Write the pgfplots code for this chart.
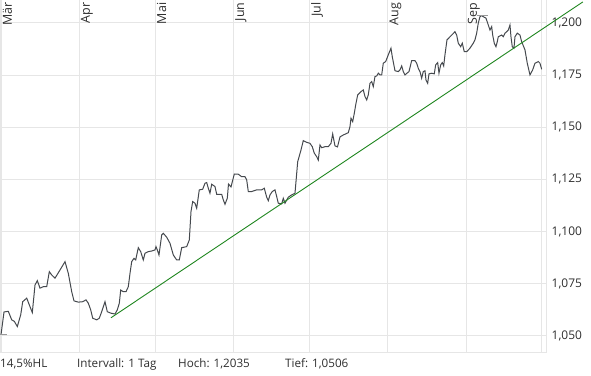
\documentclass[border=0pt]{standalone}
\usepackage{fontspec}
\setmainfont{Open Sans}
\usepackage{pgfplots}
\pgfplotsset{compat=1.18}
\definecolor{gridc}{HTML}{E6E6E6}
\definecolor{linec}{HTML}{45494E}
\definecolor{trendc}{HTML}{1F861F}
\definecolor{txtc}{HTML}{2E2E2E}
\definecolor{markc}{HTML}{999999}
\begin{document}
\begin{tikzpicture}
\useasboundingbox (0bp,-24bp) rectangle (591bp,352bp);
\begin{axis}[
  width=546bp, height=352bp, scale only axis,
  xmin=-0.4, xmax=215.6, ymin=1.0423, ymax=1.2110,
  clip=false,
  xtick={0,31,61,92,122,153,184,214},
  xticklabels={Mär,Apr,Mai,Jun,Jul,Aug,Sep,{}},
  xticklabel pos=upper,
  xticklabel style={font=\fontsize{12.5}{14}\selectfont, text=txtc, xshift=1.5bp, yshift=-2.5bp, rotate=90, anchor=north east, inner sep=0pt},
  ytick={1.05,1.075,1.1,1.125,1.15,1.175,1.2},
  yticklabels={{1,050},{1,075},{1,100},{1,125},{1,150},{1,175},{1,200}},
  yticklabel pos=right,
  yticklabel style={font=\fontsize{12}{14}\selectfont, text=txtc, anchor=west, inner sep=0pt, xshift=5.5bp},
  major tick length=0pt,
  tick style={draw=none},
  grid=major,
  major grid style={draw=gridc, line width=1bp},
  axis line style={draw=gridc, line width=1bp},
]
\addplot[linec, line width=1bp] coordinates {
(0,1.0506) (1.19,1.0615) (2.89,1.0618) (4.23,1.0577) (5.26,1.0570) (6.45,1.0545)
(7.79,1.0601) (8.58,1.0664) (10.17,1.0681) (11.19,1.0649) (12.38,1.0612) (13.45,1.0744)
(14.36,1.0765) (15.43,1.0729) (16.73,1.0736) (18.08,1.0736) (19.11,1.0808) (20.06,1.0792)
(21.36,1.0777) (23.34,1.0816) (25.32,1.0856) (26.62,1.0800) (27.97,1.0712) (28.88,1.0668)
(30.58,1.0662) (32.32,1.0664) (33.62,1.0673) (34.53,1.0657) (35.48,1.0625) (36.27,1.0585)
(37.86,1.0577) (38.88,1.0585) (39.83,1.0616) (41.14,1.0664) (42.05,1.0616) (43.51,1.0609)
(45.10,1.0605) (46.00,1.0625) (46.80,1.0657) (47.35,1.0720) (48.38,1.0712) (49.45,1.0712)
(50.36,1.0736) (51.03,1.0800) (51.70,1.0856) (52.61,1.0872) (53.28,1.0864) (54.31,1.0923)
(55.26,1.0904) (56.29,1.0864) (56.96,1.0896) (58.27,1.0904) (59.61,1.0907) (60.92,1.0912)
(61.31,1.0928) (61.83,1.0912) (62.50,1.0888) (63.57,1.0984) (64.20,1.0992) (65.55,1.0973)
(66.85,1.0944) (68.16,1.0888) (69.50,1.0864) (70.53,1.0864) (71.48,1.0923) (73.46,1.0928)
(74.49,1.0960) (75.16,1.1096) (75.83,1.1144) (76.74,1.1136) (77.41,1.1112) (78.44,1.1200)
(79.79,1.1203) (80.70,1.1232) (81.37,1.1235) (82.00,1.1208) (82.67,1.1184) (83.35,1.1227)
(84.65,1.1216) (85.32,1.1179) (87.30,1.1179) (87.94,1.1152) (88.61,1.1131) (89.52,1.1160)
(89.99,1.1228) (90.98,1.1214) (92.29,1.1276) (93.87,1.1275) (95.21,1.1263) (96.52,1.1263)
(97.19,1.1248) (97.83,1.1192) (99.17,1.1192) (101.15,1.1200) (103.13,1.1200) (104.15,1.1208)
(105.10,1.1165) (105.74,1.1148) (106.41,1.1176) (107.32,1.1192) (108.39,1.1200) (109.06,1.1168)
(109.69,1.1136) (111.04,1.1133) (111.67,1.1160) (112.34,1.1136) (113.65,1.1165) (114.99,1.1176)
(116.30,1.1184) (116.69,1.1239) (117.37,1.1335) (118.67,1.1391) (119.58,1.1436) (120.93,1.1428)
(122.23,1.1423) (123.14,1.1407) (123.93,1.1376) (124.88,1.1359) (125.52,1.1343) (126.19,1.1415)
(126.86,1.1402) (128.16,1.1407) (129.47,1.1407) (130.54,1.1423) (131.21,1.1468) (132.12,1.1411)
(133.11,1.1406) (134.10,1.1454) (135.40,1.1463) (137.38,1.1474) (138.05,1.1503) (138.45,1.1543)
(139.12,1.1527) (139.76,1.1567) (140.31,1.1607) (141.10,1.1655) (142.41,1.1671) (143.32,1.1679)
(143.99,1.1647) (144.66,1.1631) (145.29,1.1655) (145.97,1.1711) (146.64,1.1719) (147.27,1.1695)
(147.94,1.1743) (148.62,1.1746) (149.25,1.1759) (149.92,1.1751) (150.60,1.1751) (151.23,1.1807)
(152.18,1.1815) (153.20,1.1847) (154.27,1.1879) (154.79,1.1838) (155.86,1.1771) (157.16,1.1767)
(157.83,1.1775) (158.51,1.1794) (159.14,1.1767) (159.81,1.1751) (160.88,1.1762) (161.39,1.1767)
(162.46,1.1819) (163.77,1.1819) (164.44,1.1807) (165.07,1.1783) (165.74,1.1767) (166.41,1.1735)
(167.05,1.1767) (167.72,1.1771) (168.12,1.1727) (168.79,1.1711) (169.31,1.1756) (170.37,1.1759)
(171.40,1.1756) (171.95,1.1799) (172.75,1.1810) (173.26,1.1759) (173.93,1.1799) (174.57,1.1810)
(175.12,1.1794) (175.63,1.1847) (176.43,1.1919) (178.29,1.1942) (179.59,1.1958) (180.26,1.1942)
(180.90,1.1903) (181.85,1.1886) (182.48,1.1903) (183.27,1.1862) (184.22,1.1862) (185.52,1.1879)
(186.83,1.1903) (187.50,1.1919) (188.17,1.1951) (188.81,1.1999) (189.48,1.2030) (190.15,1.2035)
(190.79,1.2030) (191.85,1.2023) (192.53,1.1999) (193.44,1.1966) (194.11,1.1982) (194.51,1.1942)
(195.14,1.1903) (195.81,1.1886) (196.32,1.1910) (196.72,1.1934) (198.06,1.1942) (198.69,1.1934)
(199.37,1.1951) (200.04,1.1958) (200.67,1.1966) (201.35,1.1990) (201.74,1.1934) (202.26,1.1886)
(202.93,1.1879) (203.33,1.1934) (204.24,1.1951) (205.31,1.1942) (205.97,1.1910) (207.28,1.1871)
(208.19,1.1807) (209.26,1.1751) (210.32,1.1775) (211.24,1.1807) (212.54,1.1815) (213.21,1.1807)
(213.89,1.1778)
};
% trend line
\addplot[trendc, line width=0.9bp] coordinates {(43.51,1.0587) (230.2,1.2101)};
% low / high markers
\addplot[markc, line width=0.9bp] coordinates {(-0.4,1.0506) (2.4,1.0506)};
\addplot[markc, line width=0.9bp] coordinates {(188.3,1.2035) (192.8,1.2035)};
\end{axis}
\begin{scope}[every node/.style={anchor=base west, inner sep=0pt, text=txtc, font=\fontsize{11.7}{14}\selectfont}]
\node at (0bp,-15bp) {14,5\%HL};
\node at (77bp,-15bp) {Intervall: 1 Tag};
\node at (178bp,-15bp) {Hoch: 1,2035};
\node at (285bp,-15bp) {Tief: 1,0506};
\end{scope}
\end{tikzpicture}
\end{document}
